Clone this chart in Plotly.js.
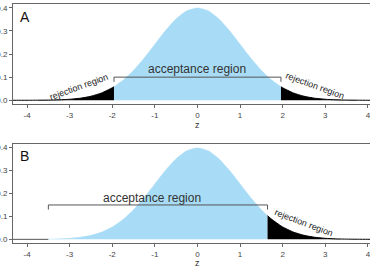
<!DOCTYPE html>
<html>
<head>
<meta charset="utf-8">
<script src="https://cdn.plot.ly/plotly-3.0.1.min.js"></script>
<style>html,body{margin:0;padding:0;background:#fff;overflow:hidden;}</style>
</head>
<body>
<div id="chart" style="width:370px;height:270px;"></div>
<script>
// z grid and standard normal density values
const zValues = [-4.5,-4.25,-4,-3.75,-3.5,-3.25,-3,-2.75,-2.5,-2.25,-2,-1.96,-1.75,-1.5,-1.25,-1,-0.75,-0.5,-0.25,0,0.25,0.5,0.75,1,1.25,1.5,1.645,1.75,1.96,2,2.25,2.5,2.75,3,3.25,3.5,3.75,4,4.25,4.5];
const densityValues = [0.0000,0.0001,0.0001,0.0004,0.0009,0.0020,0.0044,0.0091,0.0175,0.0317,0.0540,0.0584,0.0863,0.1295,0.1826,0.2420,0.3011,0.3521,0.3867,0.3989,0.3867,0.3521,0.3011,0.2420,0.1826,0.1295,0.1031,0.0863,0.0584,0.0540,0.0317,0.0175,0.0091,0.0044,0.0020,0.0009,0.0004,0.0001,0.0001,0.0000];

// Panel A: two-sided test
const panelA_critical = [-1.96, 1.96];
const panelA_bracketY = [0.08, 0.10];
// Panel B: one-sided test
const panelB_acceptance = [-3.5, 1.645];
const panelB_bracketY = [0.13, 0.15];

const xTicks = [-4,-3,-2,-1,0,1,2,3,4];
const yTicks = [0,0.1,0.2,0.3,0.4];

function seg(lo, hi) {
  const x = [], y = [];
  zValues.forEach((z, i) => { if (z >= lo - 1e-9 && z <= hi + 1e-9) { x.push(z); y.push(densityValues[i]); } });
  return {x, y};
}

const BLUE = '#a8dcf6';
const traces = [];
function fillTrace(s, color, xa, ya, lw) {
  traces.push({x: s.x, y: s.y, type: 'scatter', mode: 'lines', fill: 'tozeroy',
    fillcolor: color, line: {color: color, width: lw, shape: 'spline', smoothing: 0.6},
    xaxis: xa, yaxis: ya, hoverinfo: 'skip', showlegend: false});
}
function lineTrace(x, y, color, xa, ya) {
  traces.push({x: x, y: y, type: 'scatter', mode: 'lines', line: {color: color, width: 1},
    xaxis: xa, yaxis: ya, hoverinfo: 'skip', showlegend: false});
}

// Panel A
fillTrace(seg(-10, panelA_critical[0]), '#000000', 'x', 'y', 1);
fillTrace(seg(panelA_critical[0], panelA_critical[1]), BLUE, 'x', 'y', 0.5);
fillTrace(seg(panelA_critical[1], 10), '#000000', 'x', 'y', 1);
lineTrace([panelA_critical[0], panelA_critical[0], panelA_critical[1], panelA_critical[1]],
          [panelA_bracketY[0], panelA_bracketY[1], panelA_bracketY[1], panelA_bracketY[0]], '#555', 'x', 'y');

// Panel B
lineTrace([-10, panelB_acceptance[0]], [0, 0], '#555', 'x2', 'y2');
fillTrace(seg(panelB_acceptance[0], panelB_acceptance[1]), BLUE, 'x2', 'y2', 0.5);
fillTrace(seg(panelB_acceptance[1], 10), '#000000', 'x2', 'y2', 1);
lineTrace([panelB_acceptance[0], panelB_acceptance[0], panelB_acceptance[1], panelB_acceptance[1]],
          [panelB_bracketY[0], panelB_bracketY[1], panelB_bracketY[1], panelB_bracketY[0]], '#555', 'x2', 'y2');

const tickFont = {family: 'Liberation Sans, Arial, sans-serif', size: 8, color: '#444'};
function xaxis(anchor) {
  return {anchor: anchor, range: [-4.33, 4.05], tickvals: xTicks, ticktext: xTicks.map(String),
    ticks: 'outside', ticklen: 3, tickcolor: '#666', tickfont: tickFont, ticklabeloverflow: 'allow',
    showline: true, linecolor: '#666', linewidth: 1, mirror: true,
    showgrid: false, zeroline: false, fixedrange: true};
}
function yaxis(anchor, domain) {
  return {anchor: anchor, domain: domain, range: [-0.016, 0.416], tickvals: yTicks,
    ticktext: yTicks.map(v => v.toFixed(1)), ticklabeloverflow: 'allow',
    ticks: 'outside', ticklen: 3, tickcolor: '#666', tickfont: tickFont,
    showline: true, linecolor: '#666', linewidth: 1, mirror: false,
    showgrid: false, zeroline: false, fixedrange: true};
}

const F = 'Liberation Sans, Arial, sans-serif';
const labFont = {family: F, size: 12, color: '#333'};
const rejFont = {family: F, size: 9, color: '#222'};
const base = {showarrow: false, xanchor: 'center', yanchor: 'middle'};
const annotations = [
  {xref: 'x', yref: 'y', x: -4.05, y: 0.362, text: 'A', font: {family: F, size: 14, color: '#111'}},
  {xref: 'x2', yref: 'y2', x: -4.05, y: 0.362, text: 'B', font: {family: F, size: 14, color: '#111'}},
  {xref: 'x', yref: 'y', x: 0, y: 0.135, text: 'acceptance region', font: labFont},
  {xref: 'x2', yref: 'y2', x: -1.06, y: 0.18, text: 'acceptance region', font: labFont},
  {xref: 'x', yref: 'y', x: -2.79, y: 0.058, text: 'rejection region', textangle: -20, font: rejFont},
  {xref: 'x', yref: 'y', x: 2.77, y: 0.060, text: 'rejection region', textangle: 20, font: rejFont},
  {xref: 'x2', yref: 'y2', x: 2.51, y: 0.071, text: 'rejection region', textangle: 21, font: rejFont},
  {xref: 'x', yref: 'paper', x: 0, y: 0.4937, text: 'z', font: {family: F, size: 9, color: '#333'}},
  {xref: 'x2', yref: 'paper', x: 0, y: -0.0837, text: 'z', font: {family: F, size: 9, color: '#333'}}
].map(a => Object.assign({}, base, a));

const layout = {
  width: 370, height: 270,
  margin: {l: 13, r: 0, t: 4, b: 27},
  paper_bgcolor: '#fff', plot_bgcolor: '#fff',
  showlegend: false,
  xaxis: xaxis('y'), yaxis: yaxis('x', [0.5816, 1]),
  xaxis2: xaxis('y2'), yaxis2: yaxis('x2', [0, 0.4142]),
  annotations: annotations
};

Plotly.newPlot('chart', traces, layout, {staticPlot: true, displayModeBar: false});
</script>
</body>
</html>
